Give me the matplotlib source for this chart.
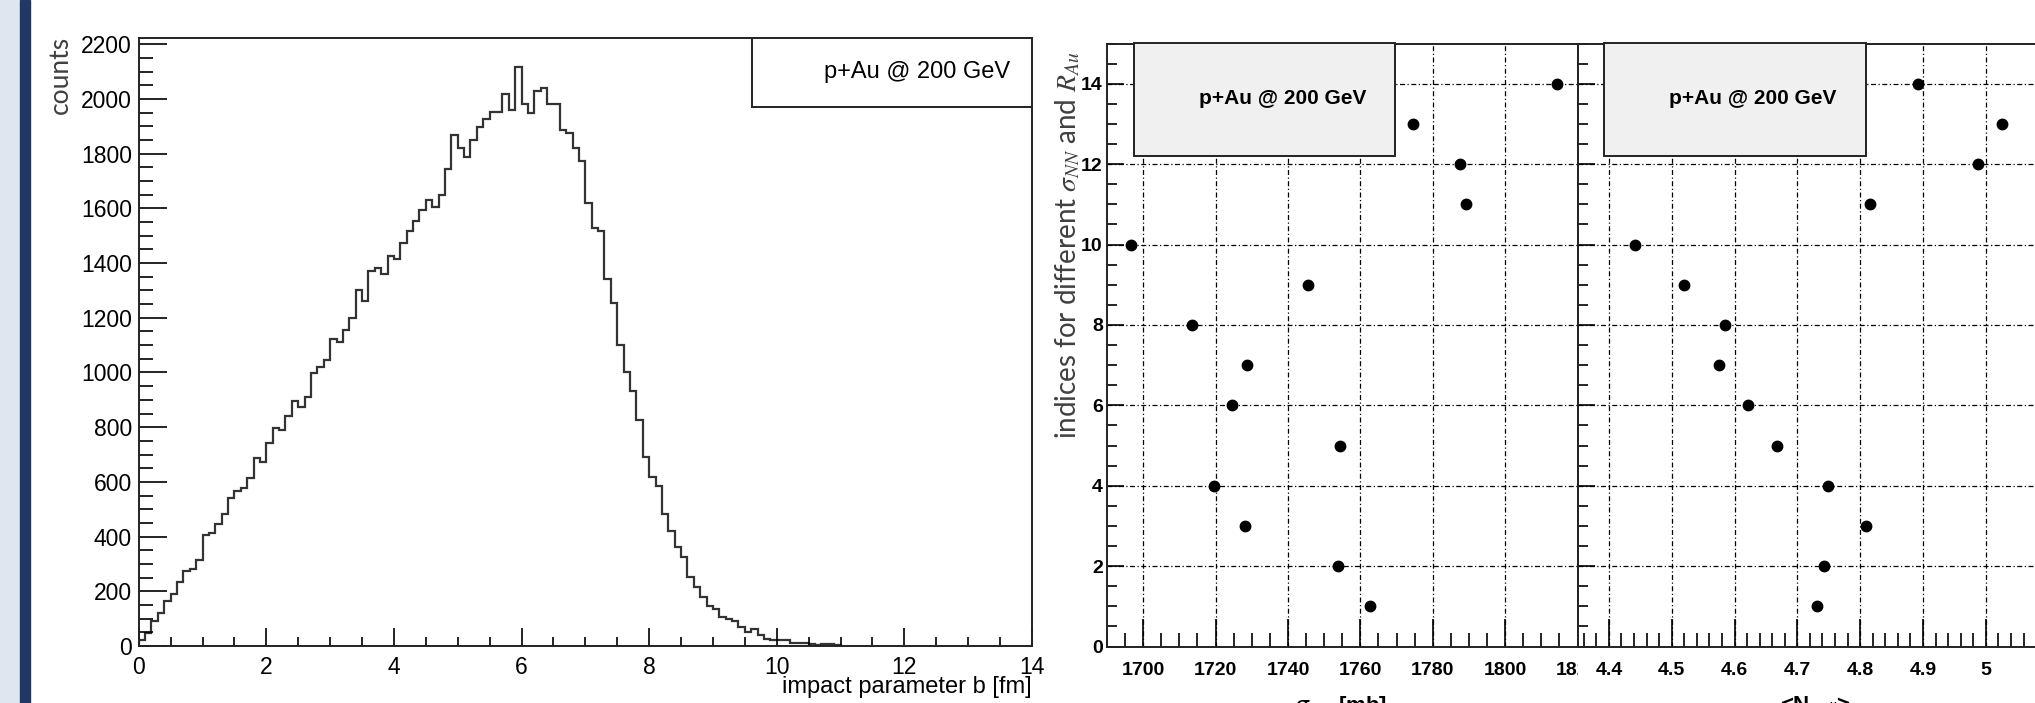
import numpy as np
import matplotlib.pyplot as plt
from matplotlib.patches import Rectangle
from matplotlib.ticker import MultipleLocator, FixedLocator, FuncFormatter
from matplotlib.transforms import Bbox, TransformedBbox

# impact parameter distribution, 0.1 fm bins starting at b = 0
bin_width = 0.1
counts = [21, 47, 91, 119, 165, 190, 234, 275, 283, 316,
          406, 414, 447, 483, 542, 565, 578, 614, 687, 673,
          742, 796, 791, 840, 895, 873, 909, 998, 1021, 1046,
          1121, 1113, 1154, 1201, 1300, 1260, 1370, 1382, 1359, 1427,
          1414, 1474, 1519, 1553, 1594, 1630, 1604, 1650, 1744, 1868,
          1822, 1789, 1850, 1899, 1927, 1952, 1952, 2017, 1960, 2118,
          1980, 1947, 2030, 2039, 1980, 1980, 1886, 1877, 1822, 1774,
          1619, 1530, 1517, 1342, 1253, 1100, 1000, 933, 826, 692,
          619, 586, 481, 420, 363, 327, 253, 217, 180, 146,
          134, 105, 98, 91, 68, 52, 61, 40, 27, 22,
          22, 22, 12, 12, 12, 7, 2, 7, 7, 2]

# index of each sigma_NN / R_Au setting
index = [1, 2, 3, 4, 5, 6, 7, 8, 9, 10, 11, 12, 13, 14]
sigma_nn = [1762.8, 1753.8, 1728.1, 1719.7, 1754.5, 1724.6, 1728.7,
            1713.5, 1745.5, 1696.7, 1789.3, 1787.5, 1774.5, 1814.3]
n_coll = [4.731, 4.743, 4.809, 4.748, 4.668, 4.622, 4.576,
          4.585, 4.519, 4.441, 4.815, 4.988, 5.026, 4.892]

label_text = "p+Au @ 200 GeV"

W, H = 2035, 703
fig = plt.figure(figsize=(W / 100, H / 100), dpi=100)


def px(x0, y0, x1, y1):
    # pixel box (top-left origin) -> figure fraction rect
    return [x0 / W, 1 - y1 / H, (x1 - x0) / W, (y1 - y0) / H]


# slide decoration on the left
fig.patches.append(Rectangle((0, 0), 20 / W, 1, transform=fig.transFigure,
                             color='#dfe6f0', zorder=0))
fig.patches.append(Rectangle((20 / W, 0), 10 / W, 1, transform=fig.transFigure,
                             color='#203864', zorder=0))

# ---- left: histogram of b
ax = fig.add_axes(px(138.7, 37.7, 1032, 646))
edges = np.arange(len(counts) + 1) * bin_width
ax.stairs(counts, edges, baseline=0, color='#333333', lw=1.6)
ax.set_xlim(0, 14)
ax.set_ylim(0, 2224)
ax.xaxis.set_major_locator(MultipleLocator(2))
ax.xaxis.set_minor_locator(MultipleLocator(0.5))
ax.yaxis.set_major_locator(MultipleLocator(200))
ax.yaxis.set_minor_locator(MultipleLocator(50))
ax.tick_params(which='both', direction='in', top=False, right=False,
               labelsize=16.5)
ax.tick_params(axis='x', which='major', length=13, width=1.2, pad=7)
ax.tick_params(axis='x', which='minor', length=6.5, width=1.2)
ax.tick_params(axis='y', which='major', length=20, width=1.2, pad=5)
ax.tick_params(axis='y', which='minor', length=10, width=1.2)
for lab in ax.get_xticklabels() + ax.get_yticklabels():
    lab.set_family('Liberation Sans')
for s in ax.spines.values():
    s.set_linewidth(1.4)
    s.set_color('#222222')
ax.add_patch(Rectangle((0.687, 0.8856), 0.313, 0.1144, transform=ax.transAxes,
                       facecolor='white', edgecolor='#222222', lw=1.4, zorder=3))
ax.text(0.976, 0.944, label_text, transform=ax.transAxes, ha='right', va='center',
        fontsize=17, family='Liberation Sans', zorder=4)
ax.text(1.0, -0.068, "impact parameter b [fm]", transform=ax.transAxes,
        ha='right', va='center', fontsize=17, family='Liberation Sans')
fig.text(60 / W, 1 - 36 / H, "counts", rotation=90, ha='center', va='top',
         fontsize=19, family='Lato', color='#404040')

# ---- right: two panels sharing the index axis
grid_kw = dict(color='black', lw=0.9, linestyle=(0, (4, 2, 1, 2)))
ax1 = fig.add_axes(px(1107, 43.5, 1577.5, 646.5))
ax2 = fig.add_axes(px(1577.5, 43.5, 2045.5, 646.5))

panels = [(ax1, sigma_nn, (1690, 1820), 20, 5, (1697.4, 72.1), 1738.6),
          (ax2, n_coll, (4.35, 5.095), 0.1, 0.02, (4.392, 0.417), 4.629)]
for a, xs, lim, major, minor, box, text_x in panels:
    a.set_xlim(*lim)
    a.set_ylim(0, 15)
    a.xaxis.set_major_locator(MultipleLocator(major))
    a.xaxis.set_minor_locator(MultipleLocator(minor))
    a.yaxis.set_major_locator(FixedLocator(range(0, 15, 2)))
    a.yaxis.set_minor_locator(MultipleLocator(0.5))
    a.xaxis.set_major_formatter(FuncFormatter(lambda v, p: '%g' % round(v, 3)))
    a.grid(True, which='major', **grid_kw)
    a.set_axisbelow(True)
    a.tick_params(which='both', direction='in', top=False, right=False,
                  labelsize=14, width=1.2)
    a.tick_params(axis='x', which='major', length=20, pad=11)
    a.tick_params(axis='x', which='minor', length=10)
    a.tick_params(axis='y', which='major', length=12, pad=3)
    a.tick_params(axis='y', which='minor', length=7)
    for lab in a.get_xticklabels() + a.get_yticklabels():
        lab.set_family('Liberation Sans')
        lab.set_fontweight('bold')
    for s in a.spines.values():
        s.set_linewidth(1.4)
        s.set_color('#222222')
    a.add_patch(Rectangle((box[0], 12.19), box[1], 15 - 12.19, facecolor='#f0f0f0',
                          edgecolor='#222222', lw=1.4, zorder=3, clip_on=False))
    a.text(text_x, 13.63, label_text, ha='center', va='center', fontsize=15,
           fontweight='bold', family='Liberation Sans', zorder=4)
    a.plot(xs, index, 'o', color='black', ms=7.5, zorder=5, clip_on=False)

ax2.tick_params(axis='y', labelleft=False)

# ROOT clips the last label of the first pad at the pad boundary
clip = TransformedBbox(Bbox([[0, 0], [1577.5 / W, 1]]), fig.transFigure)
for t in ax1.xaxis.get_major_ticks():
    t.label1.set_clip_on(True)
    t.label1.set_clip_box(clip)

fig.text(1068 / W, 1 - 245 / H, r"indices for different $\sigma_{NN}$ and $R_{Au}$",
         rotation=90, ha='center', va='center', fontsize=20,
         family='Lato', color='#404040', math_fontfamily='stix')

# axis titles, cut off by the slide bottom as in the original
fig.text(1341 / W, 1 - 694 / H, r"$\sigma_{NN}$ [mb]", ha='center', va='top',
         fontsize=16, fontweight='bold', family='Liberation Sans')
fig.text(1815 / W, 1 - 694 / H, r"<N$_{coll}$>", ha='center', va='top',
         fontsize=16, fontweight='bold', family='Liberation Sans')

fig.savefig('out.png', dpi=100)
